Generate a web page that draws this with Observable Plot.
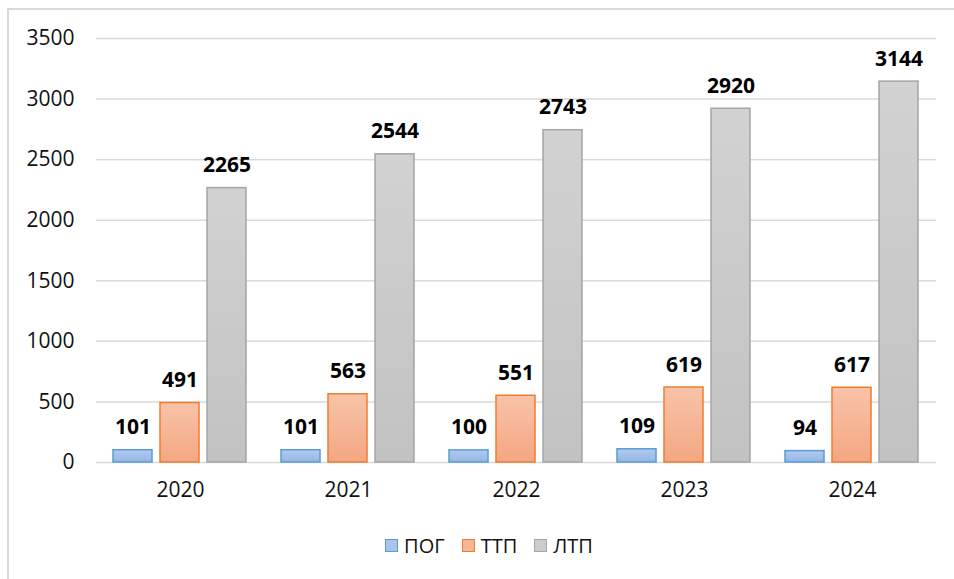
<!DOCTYPE html>
<html>
<head>
<meta charset="utf-8">
<script src="https://cdn.jsdelivr.net/npm/d3@7"></script>
<script src="https://cdn.jsdelivr.net/npm/@observablehq/plot@0.6"></script>
<style>
  html, body { margin: 0; padding: 0; background: #fff; }
  body { width: 954px; height: 579px; position: relative; overflow: hidden; font-family: "Open Sans", "Noto Sans", sans-serif; }
  #frame { position: absolute; left: 7px; top: 8px; width: 960px; height: 590px; border: 2px solid #d9d9d9; box-sizing: border-box; }
  #chart { position: absolute; left: 0; top: 0; }
  #legend { position: absolute; left: 12px; top: 532px; width: 954px; display: flex; justify-content: center; gap: 17px; font-size: 20px; color: #111; }
  .item { display: flex; align-items: center; gap: 6px; }
  .sw { width: 11px; height: 11px; border: 1.5px solid; }
</style>
</head>
<body>
<div id="frame"></div>
<div id="chart"></div>
<div id="legend"></div>
<script>
const years = ["2020", "2021", "2022", "2023", "2024"];
const seriesNames = ["ПОГ", "ТТП", "ЛТП"];
const pog = [101, 101, 100, 109, 94];
const ttp = [491, 563, 551, 619, 617];
const ltp = [2265, 2544, 2743, 2920, 3144];
const yTicks = [0, 500, 1000, 1500, 2000, 2500, 3000, 3500];

const seriesValues = [pog, ttp, ltp];
const fills = ["url(#gBlue)", "url(#gOrange)", "url(#gGray)"];
const strokes = ["#5b9bd5", "#ed7d31", "#a5a5a5"];
const swatchFill = ["#a9c4eb", "#f6b595", "#cccccc"];

const data = [];
seriesNames.forEach((s, i) => years.forEach((y, j) => data.push({year: y, series: s, value: seriesValues[i][j]})));

const defs = () => {
  const ns = "http://www.w3.org/2000/svg";
  const d = document.createElementNS(ns, "defs");
  const mk = (id, c1, c2) => {
    const g = document.createElementNS(ns, "linearGradient");
    g.setAttribute("id", id);
    g.setAttribute("x1", "0"); g.setAttribute("y1", "0"); g.setAttribute("x2", "0"); g.setAttribute("y2", "1");
    [[0, c1], [1, c2]].forEach(([o, c]) => {
      const s = document.createElementNS(ns, "stop");
      s.setAttribute("offset", o); s.setAttribute("stop-color", c);
      g.appendChild(s);
    });
    d.appendChild(g);
  };
  mk("gBlue", "#b2cbee", "#94b5e2");
  mk("gOrange", "#f8c3a9", "#f4a782");
  mk("gGray", "#d2d2d2", "#c2c2c2");
  return d;
};

const barMarks = seriesNames.map((s, i) =>
  Plot.barY(data.filter(d => d.series === s), {
    fx: "year", x: "series", y: "value",
    fill: fills[i], stroke: strokes[i], strokeWidth: 1.5
  })
);

const chart = Plot.plot({
  width: 954,
  height: 520,
  marginLeft: 95,
  marginRight: 18,
  marginTop: 38,
  marginBottom: 58,
  style: {fontFamily: "'Open Sans', 'Noto Sans', sans-serif", fontSize: "21px", color: "#111", background: "transparent", overflow: "visible"},
  fx: {domain: years, padding: 0, label: null, axis: "bottom", tickSize: 0, tickPadding: 20, fontSize: 21},
  x: {domain: seriesNames, paddingInner: 0.17, paddingOuter: 0.372, axis: null},
  y: {domain: [0, 3500], ticks: yTicks, label: null, axis: null},
  marks: [
    defs,
    Plot.ruleY(yTicks, {stroke: "#d9d9d9", strokeWidth: 1.5}),
    Plot.axisY(yTicks, {tickSize: 0, tickPadding: 22, label: null, fontSize: 21, tickFormat: d => String(d)}),
    ...barMarks,
    Plot.text(data, {
      fx: "year", x: "series", y: "value", text: d => String(d.value),
      lineAnchor: "bottom", dy: -16, fontWeight: "bold", fontSize: 21, fill: "#000"
    })
  ]
});
document.getElementById("chart").appendChild(chart);

const legend = document.getElementById("legend");
seriesNames.forEach((s, i) => {
  const it = document.createElement("div");
  it.className = "item";
  const sw = document.createElement("div");
  sw.className = "sw";
  sw.style.background = swatchFill[i];
  sw.style.borderColor = strokes[i];
  const t = document.createElement("span");
  t.textContent = s;
  it.appendChild(sw); it.appendChild(t);
  legend.appendChild(it);
});
</script>
</body>
</html>
